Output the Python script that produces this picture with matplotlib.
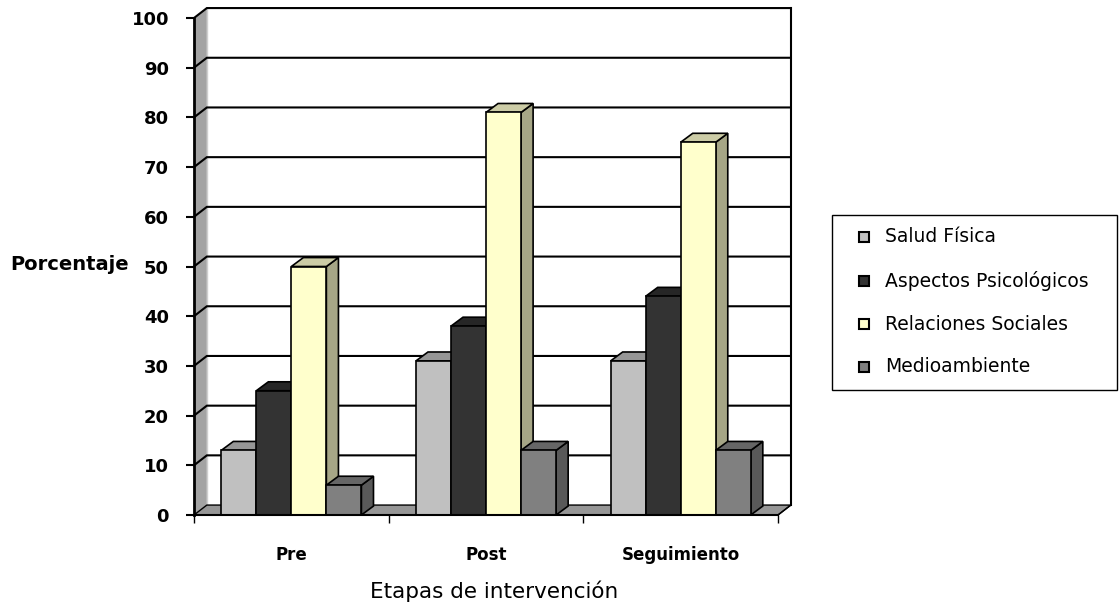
import matplotlib.pyplot as plt
from matplotlib.patches import Polygon, Rectangle

# ---- data ----
etapas = ['Pre', 'Post', 'Seguimiento']
series = ['Salud Física', 'Aspectos Psicológicos', 'Relaciones Sociales', 'Medioambiente']
salud_fisica = [13, 31, 31]
aspectos_psicologicos = [25, 38, 44]
relaciones_sociales = [50, 81, 75]
medioambiente = [6, 13, 13]
valores = [salud_fisica, aspectos_psicologicos, relaciones_sociales, medioambiente]

# front / top / side shades for each series
front_cols = ['#C0C0C0', '#333333', '#FFFFCC', '#808080']
top_cols = ['#969696', '#262626', '#CCCCA6', '#666666']
side_cols = ['#7a7a7a', '#1a1a1a', '#A6A686', '#595959']

# ---- canvas ----
W, H = 1119, 605
fig = plt.figure(figsize=(W / 100, H / 100), dpi=100)
ax = fig.add_axes([194 / W, 90 / H, 584 / W, 497 / H])
ax.set_xlim(0, 3)
ax.set_ylim(0, 100)
for s in ['top', 'right']:
    ax.spines[s].set_visible(False)
ax.spines['left'].set_linewidth(2)
ax.spines['bottom'].set_linewidth(1.5)
ax.spines['left'].set_zorder(20)
ax.spines['bottom'].set_zorder(20)

# depth of the walls and of the bars (data units)
wdx, wdy = 0.066, 2.0
bdx, bdy = 0.062, 1.8

# left wall
ax.add_patch(Polygon([(0, 0), (wdx, wdy), (wdx, 100 + wdy), (0, 100)], closed=True,
                     facecolor='#A3A3A3', edgecolor='none', clip_on=False, zorder=1))
ax.plot([wdx, wdx], [wdy, 100 + wdy], color='#cfcfcf', lw=1, clip_on=False, zorder=1)
# floor
ax.add_patch(Polygon([(0, 0), (3, 0), (3 + wdx, wdy), (wdx, wdy)], closed=True,
                     facecolor='#969696', edgecolor='black', lw=1, clip_on=False, zorder=1))
# gridlines on the back wall
for v in range(10, 101, 10):
    ax.plot([0, wdx, 3 + wdx], [v, v + wdy, v + wdy], color='black', lw=1.5,
            clip_on=False, zorder=1.5, solid_joinstyle='miter')
ax.plot([3 + wdx, 3 + wdx], [wdy, 100 + wdy], color='black', lw=1.5, clip_on=False, zorder=1.5)
ax.plot([3, 3 + wdx], [0, wdy], color='black', lw=1, clip_on=False, zorder=1.5)

# ---- bars ----
bw = 0.18
start = 0.14
for i in range(len(etapas)):
    for k in range(len(series)):
        v = valores[k][i]
        x0 = i + start + k * bw
        ax.add_patch(Polygon([(x0 + bw, 0), (x0 + bw + bdx, bdy), (x0 + bw + bdx, v + bdy), (x0 + bw, v)],
                             closed=True, facecolor=side_cols[k], edgecolor='black', lw=1.2,
                             clip_on=False, zorder=3))
        ax.add_patch(Polygon([(x0, v), (x0 + bw, v), (x0 + bw + bdx, v + bdy), (x0 + bdx, v + bdy)],
                             closed=True, facecolor=top_cols[k], edgecolor='black', lw=1.2,
                             clip_on=False, zorder=3))
        ax.bar(x0, v, bw, align='edge', color=front_cols[k], edgecolor='black', lw=1.2,
               zorder=3, clip_on=False)

# ---- ticks ----
ax.set_yticks(range(0, 101, 10))
ax.set_yticklabels([str(t) for t in range(0, 101, 10)], fontsize=13, fontweight='bold')
ax.tick_params(axis='y', length=6, width=1.5, pad=12)
ax.set_xticks([0, 1, 2, 3])
ax.set_xticklabels([])
ax.tick_params(axis='x', which='major', length=6, width=1)
ax.set_xticks([0.5, 1.5, 2.5], minor=True)
ax.set_xticklabels(etapas, minor=True, fontsize=12, fontweight='bold')
ax.tick_params(axis='x', which='minor', length=0, pad=22)

fig.text(10 / W, 1 - 265 / H, 'Porcentaje', fontsize=14, fontweight='bold',
         ha='left', va='center')
fig.text(494 / W, 1 - 591 / H, 'Etapas de intervención', fontsize=15.5,
         ha='center', va='center')

# ---- legend (drawn by hand in figure pixels) ----
def fx(px):
    return px / W

def fy(py):
    return 1 - py / H

fig.patches.append(Rectangle((fx(832), fy(390)), fx(1117) - fx(832), fy(215) - fy(390),
                             transform=fig.transFigure, facecolor='white',
                             edgecolor='black', lw=1, zorder=5))
row_y = [237, 281, 324, 367]
for k, name in enumerate(series):
    fig.patches.append(Rectangle((fx(859), fy(row_y[k] + 5)), fx(869) - fx(859), fy(row_y[k] - 5) - fy(row_y[k] + 5),
                                 transform=fig.transFigure, facecolor=front_cols[k],
                                 edgecolor='black', lw=1.5, zorder=6))
    fig.text(fx(885), fy(row_y[k]), name, fontsize=13.5, ha='left', va='center', zorder=7)

plt.savefig('out.png', dpi=100)
